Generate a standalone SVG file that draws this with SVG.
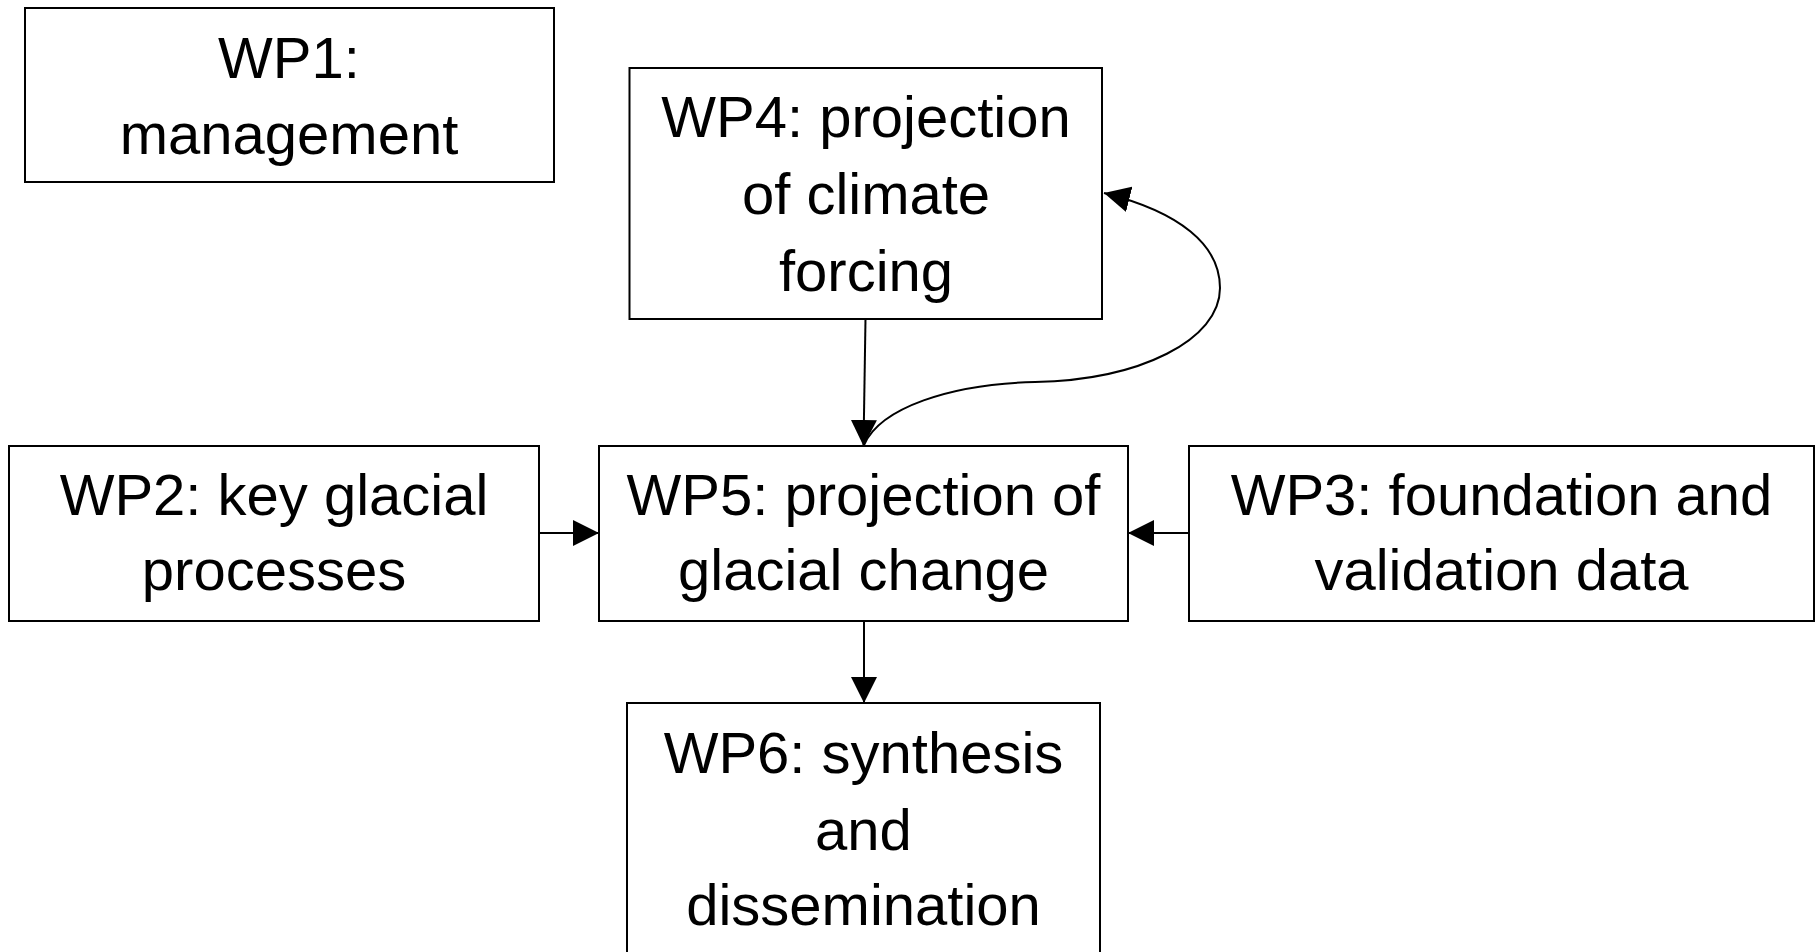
<svg xmlns="http://www.w3.org/2000/svg" width="1820" height="952" viewBox="0 0 1820 952">
  <defs>
    <style>
      .box { fill: #ffffff; stroke: #000000; stroke-width: 2; }
      .lbl { font-family: "Liberation Sans", Arial, sans-serif; font-size: 58px; fill: #000000; text-anchor: middle; }
      .conn { fill: none; stroke: #000000; stroke-width: 2; }
    </style>
    <marker id="arrow" viewBox="0 0 26 26" markerUnits="userSpaceOnUse" markerWidth="26" markerHeight="26" refX="26" refY="13" orient="auto">
      <path d="M0,0 L26,13 L0,26 Z" fill="#000000"/>
    </marker>
  </defs>
  <rect x="0" y="0" width="1820" height="952" fill="#ffffff"/>

  <g id="connectors">
    <line class="conn" x1="865.5" y1="319" x2="863.5" y2="446" marker-end="url(#arrow)"/>
    <line class="conn" x1="539" y1="533" x2="599" y2="533" marker-end="url(#arrow)"/>
    <line class="conn" x1="1189" y1="533" x2="1128" y2="533" marker-end="url(#arrow)"/>
    <line class="conn" x1="864" y1="621" x2="864" y2="703" marker-end="url(#arrow)"/>
    <path class="conn" d="M 864 445 C 880 408 950 384 1035 382 C 1140 380 1220 340 1220 288 C 1220 245 1180 212 1104 193" marker-end="url(#arrow)"/>
  </g>

  <g id="wp1">
    <rect class="box" x="25" y="8" width="529" height="174"/>
    <text class="lbl" x="289" y="78">WP1:</text>
    <text class="lbl" x="289" y="154">management</text>
  </g>

  <g id="wp4">
    <rect class="box" x="629.5" y="68" width="472.5" height="251"/>
    <text class="lbl" x="866" y="137">WP4: projection</text>
    <text class="lbl" x="866" y="214">of climate</text>
    <text class="lbl" x="866" y="291">forcing</text>
  </g>

  <g id="wp2">
    <rect class="box" x="9" y="446" width="530" height="175"/>
    <text class="lbl" x="274" y="515">WP2: key glacial</text>
    <text class="lbl" x="274" y="590">processes</text>
  </g>

  <g id="wp5">
    <rect class="box" x="599" y="446" width="529" height="175"/>
    <text class="lbl" x="863.5" y="515">WP5: projection of</text>
    <text class="lbl" x="863.5" y="590">glacial change</text>
  </g>

  <g id="wp3">
    <rect class="box" x="1189" y="446" width="625" height="175"/>
    <text class="lbl" x="1501.5" y="515">WP3: foundation and</text>
    <text class="lbl" x="1501.5" y="590">validation data</text>
  </g>

  <g id="wp6">
    <rect class="box" x="627" y="703" width="473" height="270"/>
    <text class="lbl" x="863.5" y="773">WP6: synthesis</text>
    <text class="lbl" x="863.5" y="850">and</text>
    <text class="lbl" x="863.5" y="925">dissemination</text>
  </g>
</svg>
